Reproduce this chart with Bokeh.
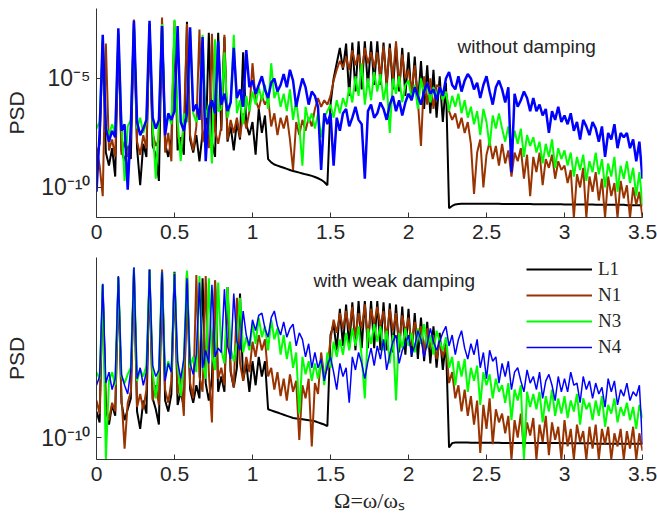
import numpy as np
from bokeh.plotting import figure
from bokeh.layouts import column
from bokeh.models import FixedTicker, Range1d, Label, Legend, LegendItem
from bokeh.embed import file_html
from bokeh.resources import INLINE

# frequency grid Omega = omega/omega_s (0 .. 3.5, step 0.02)
freq = np.linspace(0.0, 3.5, 176)

xtick_values = [0, 0.5, 1, 1.5, 2, 2.5, 3, 3.5]
xtick_labels = ["0", "0.5", "1", "1.5", "2", "2.5", "3", "3.5"]
top_ytick_values = [1e-10, 1e-5]
top_ytick_labels = ["10\u207b\u00b9\u2070", "10\u207b\u2075"]
bot_ytick_values = [1e-10]
bot_ytick_labels = ["10\u207b\u00b9\u2070"]

series_names = ["L1", "N1", "N3", "N4"]

# ---- top panel: without damping, log10(PSD) ----
top_L1 = [
    -8.6, -8.0, -3.3, -8.4, -9.0, -8.2, -9.5, -3.0, -8.3, -8.8,
    -8.1, -8.7, -2.5, -8.2, -9.9, -8.0, -8.6, -2.5, -8.1, -8.5,
    -9.7, -2.4, -8.0, -8.6, -7.8, -2.7, -8.3, -7.7, -8.5, -2.4,
    -7.8, -8.4, -7.6, -8.8, -7.5, -8.1, -2.9, -7.9, -8.6, -2.9,
    -7.4, -3.1, -7.9, -7.2, -8.3, -7.0, -7.8, -3.8, -7.1, -7.6,
    -7.0, -8.5, -6.4, -7.5, -6.7, -8.7, -8.85, -8.95, -9.0, -9.05,
    -9.1, -9.15, -9.2, -9.25, -9.28, -9.32, -9.36, -9.4, -9.43, -9.47,
    -9.52, -9.58, -9.65, -9.75, -9.9, -6.2, -5.0, -4.3, -3.6, -4.6,
    -3.4, -5.8, -3.35, -5.6, -3.3, -5.5, -3.3, -5.4, -3.3, -5.3,
    -3.3, -5.3, -3.35, -5.4, -3.4, -5.5, -3.5, -5.6, -3.6, -5.8,
    -3.8, -6.0, -4.0, -6.2, -4.2, -6.4, -4.4, -6.6, -4.6, -6.8,
    -4.9, -7.0, -5.2, -10.95, -10.85, -10.78, -10.76, -10.75, -10.75, -10.75,
    -10.75, -10.75, -10.75, -10.75, -10.75, -10.75, -10.75, -10.75, -10.75, -10.75,
    -10.76, -10.76, -10.76, -10.76, -10.76, -10.76, -10.76, -10.76, -10.76, -10.76,
    -10.77, -10.77, -10.77, -10.77, -10.77, -10.77, -10.77, -10.77, -10.77, -10.77,
    -10.78, -10.78, -10.78, -10.78, -10.78, -10.78, -10.78, -10.78, -10.78, -10.78,
    -10.8, -10.8, -10.8, -10.8, -10.8, -10.8, -10.8, -10.8, -10.8, -10.8,
    -10.82, -10.82, -10.82, -10.82, -10.82, -10.82,
]
top_N1 = [
    -8.2, -9.0, -10.4, -3.4, -8.3, -7.8, -8.6, -3.2, -8.5, -7.9,
    -8.6, -7.7, -2.3, -7.9, -8.5, -7.6, -8.2, -2.5, -7.5, -8.1,
    -7.8, -2.2, -8.4, -7.5, -8.8, -2.35, -7.6, -8.2, -7.3, -2.5,
    -7.6, -8.3, -7.2, -2.75, -7.9, -7.1, -8.2, -2.95, -7.4, -8.0,
    -7.2, -3.0, -7.8, -6.9, -7.5, -6.8, -7.7, -6.6, -7.3, -6.5,
    -4.3, -6.0, -6.4, -5.8, -6.2, -5.9, -7.2, -6.6, -7.6, -6.8,
    -7.3, -6.7, -7.8, -9.2, -7.0, -7.6, -6.9, -7.4, -6.8, -7.2,
    -6.4, -5.9, -6.3, -6.0, -6.2, -5.8, -5.1, -4.6, -4.2, -4.5,
    -4.0, -4.6, -3.7, -4.4, -3.9, -4.8, -3.6, -4.3, -3.8, -4.5,
    -3.8, -4.9, -3.5, -5.2, -3.6, -5.0, -3.3, -5.4, -3.9, -5.0,
    -4.6, -5.6, -4.4, -6.0, -8.1, -4.9, -6.2, -5.0, -6.4, -5.3,
    -5.4, -6.0, -5.6, -6.5, -6.9, -6.6, -7.3, -6.8, -7.5, -7.0,
    -8.0, -10.3, -8.4, -7.8, -10.0, -8.5, -7.9, -8.7, -8.1, -9.0,
    -8.0, -8.9, -8.3, -9.5, -8.4, -8.8, -8.2, -9.6, -8.5, -10.4,
    -8.6, -9.3, -8.4, -9.9, -8.7, -9.1, -8.5, -9.6, -8.8, -9.2,
    -9.0, -9.8, -9.2, -11.4, -9.4, -10.0, -9.1, -11.4, -9.5, -10.2,
    -9.3, -10.6, -9.6, -11.4, -9.5, -10.4, -9.8, -11.4, -9.7, -10.5,
    -9.9, -11.4, -10.0, -10.8, -10.2, -11.4,
]
top_N3 = [
    -7.3, -7.0, -3.2, -7.2, -7.6, -7.1, -7.5, -2.9, -7.0, -9.7,
    -7.2, -6.9, -2.5, -7.3, -6.8, -7.5, -7.0, -2.5, -7.1, -9.6,
    -7.0, -2.5, -7.3, -6.7, -7.1, -2.3, -6.9, -8.8, -6.6, -7.0,
    -2.8, -6.6, -7.0, -6.4, -3.0, -6.8, -6.2, -8.9, -3.2, -6.5,
    -6.4, -3.8, -6.8, -6.1, -3.0, -6.6, -6.0, -7.1, -5.8, -6.5,
    -5.6, -6.2, -5.4, -6.0, -5.3, -6.4, -4.3, -5.9, -5.5, -6.3,
    -5.7, -6.5, -5.5, -6.9, -6.0, -7.2, -9.0, -6.3, -7.0, -6.6,
    -7.3, -6.6, -7.7, -6.8, -6.5, -6.2, -6.8, -6.0, -6.6, -5.9,
    -6.3, -5.4, -6.1, -4.9, -5.8, -4.3, -6.2, -5.0, -6.0, -4.7,
    -5.6, -4.8, -6.0, -5.2, -7.5, -5.0, -5.7, -4.9, -6.1, -5.3,
    -5.1, -5.9, -5.3, -6.4, -5.0, -5.7, -5.2, -6.1, -5.4, -5.8,
    -5.4, -6.0, -5.6, -6.5, -5.8, -6.3, -5.7, -6.6, -6.0, -6.8,
    -6.3, -7.1, -6.5, -7.6, -6.4, -7.0, -8.1, -6.7, -7.3, -6.6,
    -7.3, -7.9, -7.2, -8.3, -7.4, -8.0, -7.3, -8.6, -7.6, -8.1,
    -7.7, -8.4, -7.9, -8.9, -8.0, -8.6, -7.8, -9.1, -8.2, -8.7,
    -8.3, -9.0, -8.4, -9.5, -8.6, -9.2, -8.5, -9.7, -8.8, -9.3,
    -8.4, -9.4, -8.7, -10.0, -8.9, -9.5, -8.6, -10.2, -9.0, -9.6,
    -8.8, -9.8, -9.1, -10.4, -9.3, -10.8,
]
top_N4 = [
    -10.2, -7.5, -3.0, -7.3, -7.9, -7.4, -7.7, -2.7, -7.4, -7.1,
    -10.1, -7.2, -2.35, -7.0, -7.6, -7.3, -6.9, -2.35, -6.8, -7.3,
    -6.9, -2.6, -7.6, -6.6, -6.9, -6.5, -2.6, -7.0, -7.4, -6.6,
    -2.65, -6.5, -6.2, -6.9, -3.1, -8.8, -6.4, -6.0, -6.6, -3.3,
    -6.2, -5.7, -6.5, -6.1, -3.6, -5.9, -5.5, -6.3, -3.7, -5.4,
    -5.1, -5.7, -5.3, -4.9, -5.5, -5.9, -5.2, -5.0, -5.6, -5.3,
    -4.8, -5.4, -4.6, -5.1, -6.3, -5.6, -5.0, -5.4, -6.2, -5.6,
    -5.8, -6.3, -9.2, -6.6, -7.1, -6.6, -9.0, -6.8, -7.4, -6.6,
    -6.4, -7.2, -6.8, -6.3, -6.9, -7.1, -9.6, -6.5, -6.2, -6.8,
    -6.6, -6.1, -6.4, -6.9, -6.2, -5.8, -6.5, -6.0, -6.7, -6.1,
    -5.7, -6.0, -5.4, -5.8, -6.2, -5.6, -5.2, -5.7, -5.5, -6.0,
    -5.4, -5.8, -5.0, -4.7, -5.3, -5.5, -4.9, -5.6, -5.1, -4.8,
    -5.0, -5.5, -5.2, -5.9, -5.3, -4.9, -5.6, -6.2, -5.4, -5.1,
    -5.5, -6.1, -5.4, -9.3, -5.7, -6.3, -6.0, -5.6, -5.9, -6.5,
    -5.9, -6.5, -6.2, -6.7, -6.4, -7.5, -6.5, -6.9, -6.3, -7.0,
    -6.7, -7.1, -6.6, -7.4, -7.0, -7.8, -6.9, -7.2, -7.6, -7.0,
    -7.3, -7.9, -7.2, -8.6, -7.5, -7.8, -7.1, -8.2, -7.5, -7.7,
    -7.5, -8.2, -7.8, -8.8, -7.9, -9.6,
]

# ---- bottom panel: with weak damping, log10(PSD) ----
bot_L1 = [
    -8.8, -9.3, -3.0, -8.6, -9.4, -8.5, -9.0, -2.65, -8.4, -9.2,
    -8.7, -8.2, -2.25, -8.8, -9.6, -8.3, -8.9, -2.3, -8.2, -8.7,
    -9.4, -2.35, -8.3, -8.8, -8.0, -2.4, -8.5, -7.9, -8.6, -2.5,
    -7.8, -8.4, -7.6, -8.2, -2.7, -7.5, -8.3, -7.3, -2.8, -7.9,
    -7.2, -7.9, -3.1, -7.0, -7.7, -6.8, -3.4, -7.4, -6.6, -7.9,
    -6.5, -7.6, -6.3, -7.2, -6.5, -8.7, -8.75, -8.8, -8.85, -8.9,
    -8.95, -9.0, -9.05, -9.1, -9.12, -9.14, -9.16, -9.18, -9.2, -9.22,
    -9.25, -9.3, -9.35, -9.4, -9.47, -5.3, -4.8, -6.0, -4.1, -5.8,
    -3.9, -5.9, -3.8, -6.0, -3.75, -5.9, -3.75, -5.9, -3.75, -5.9,
    -3.75, -6.0, -3.8, -6.0, -3.85, -6.1, -3.9, -6.1, -4.0, -6.2,
    -4.1, -6.3, -4.3, -6.4, -4.5, -6.5, -4.7, -6.6, -4.9, -6.8,
    -5.2, -6.9, -5.6, -10.45, -10.25, -10.22, -10.22, -10.22, -10.22, -10.22,
    -10.23, -10.23, -10.23, -10.23, -10.23, -10.23, -10.23, -10.23, -10.23, -10.23,
    -10.24, -10.24, -10.24, -10.24, -10.24, -10.24, -10.24, -10.24, -10.24, -10.24,
    -10.25, -10.25, -10.25, -10.25, -10.25, -10.25, -10.25, -10.25, -10.25, -10.25,
    -10.26, -10.26, -10.26, -10.26, -10.26, -10.26, -10.26, -10.26, -10.26, -10.26,
    -10.28, -10.28, -10.28, -10.28, -10.28, -10.28, -10.28, -10.28, -10.28, -10.28,
    -10.28, -10.28, -10.28, -10.28, -10.28, -10.28,
]
bot_N1 = [
    -8.3, -8.9, -3.3, -8.6, -9.2, -8.4, -8.8, -3.0, -8.1, -10.5,
    -8.4, -7.9, -2.5, -8.6, -8.0, -8.7, -7.8, -2.6, -8.3, -7.6,
    -8.5, -2.3, -7.8, -8.4, -7.4, -2.5, -8.0, -7.3, -9.0, -2.4,
    -7.5, -8.2, -2.55, -7.2, -7.9, -2.6, -7.0, -9.3, -2.8, -7.3,
    -6.8, -7.6, -3.2, -6.9, -7.7, -3.6, -6.6, -7.4, -6.3, -7.0,
    -5.6, -6.3, -5.3, -6.0, -5.5, -7.2, -6.8, -7.8, -7.0, -8.1,
    -7.3, -8.3, -7.1, -7.9, -7.4, -10.1, -7.6, -8.2, -7.3, -10.4,
    -7.5, -8.0, -6.1, -7.2, -6.8, -5.5, -4.6, -5.2, -4.3, -5.0,
    -4.2, -5.1, -4.0, -5.4, -4.3, -5.0, -3.9, -5.6, -4.1, -4.8,
    -4.0, -4.9, -4.2, -5.5, -4.1, -5.1, -4.3, -5.7, -4.4, -5.2,
    -4.5, -5.8, -4.7, -5.4, -4.9, -6.2, -5.0, -5.9, -5.3, -6.4,
    -5.6, -6.3, -5.8, -7.5, -7.0, -8.2, -7.6, -8.8, -7.8, -9.0,
    -8.1, -9.4, -8.3, -10.7, -8.5, -9.6, -8.2, -10.3, -8.7, -9.3,
    -8.9, -9.8, -9.0, -11.0, -9.2, -10.0, -8.9, -10.6, -9.3, -9.9,
    -9.1, -11.0, -9.4, -10.2, -9.0, -10.8, -9.3, -10.1, -9.5, -11.0,
    -9.2, -10.4, -9.6, -11.0, -9.4, -10.2, -9.7, -11.0, -9.5, -10.5,
    -9.4, -11.0, -9.6, -10.3, -9.5, -11.0, -9.8, -10.4, -9.6, -11.0,
    -9.7, -10.5, -9.5, -11.0, -9.8, -10.6,
]
bot_N3 = [
    -7.0, -7.3, -3.0, -11.0, -7.4, -7.0, -7.6, -2.7, -7.2, -7.5,
    -7.1, -6.8, -2.25, -7.4, -6.9, -7.2, -6.7, -2.35, -7.0, -8.2,
    -6.8, -2.4, -7.2, -6.5, -7.0, -2.45, -6.7, -8.1, -6.4, -2.35,
    -6.8, -6.3, -7.0, -2.6, -6.5, -7.3, -2.7, -6.2, -6.9, -2.9,
    -6.0, -6.6, -3.1, -5.9, -6.5, -5.6, -3.6, -6.1, -5.4, -6.0,
    -4.8, -5.7, -4.5, -5.4, -4.9, -6.0, -4.6, -5.5, -5.0, -6.2,
    -5.3, -6.4, -5.6, -6.8, -6.1, -8.9, -6.3, -7.1, -6.5, -7.4,
    -6.6, -7.3, -6.4, -7.6, -6.1, -6.8, -5.6, -6.3, -5.5, -6.2,
    -5.2, -6.0, -5.0, -5.8, -4.9, -6.3, -8.2, -5.0, -5.7, -4.8,
    -5.6, -4.9, -6.0, -5.1, -6.6, -5.3, -8.3, -5.2, -5.9, -5.0,
    -5.8, -5.2, -6.1, -5.0, -5.7, -4.8, -5.9, -5.3, -6.2, -5.1,
    -5.6, -6.0, -5.4, -6.8, -6.3, -7.6, -6.5, -7.2, -6.4, -7.9,
    -6.8, -7.4, -6.7, -8.5, -7.0, -7.6, -7.1, -8.2, -7.3, -7.9,
    -7.6, -8.4, -7.5, -9.2, -7.8, -8.3, -7.6, -11.0, -7.9, -8.6,
    -8.0, -8.7, -7.9, -9.3, -8.1, -8.8, -7.8, -9.0, -8.2, -8.9,
    -8.1, -9.1, -8.3, -8.8, -8.0, -9.4, -8.2, -8.7, -8.4, -9.2,
    -8.3, -9.0, -8.1, -9.5, -8.5, -8.9, -8.2, -9.3, -8.6, -9.0,
    -8.4, -9.2, -8.6, -9.6, -8.5, -9.1,
]
bot_N4 = [
    -7.6, -7.2, -2.95, -7.5, -7.0, -7.8, -7.3, -2.6, -7.1, -7.6,
    -8.0, -6.9, -2.2, -7.3, -6.8, -7.6, -7.0, -2.3, -6.7, -7.2,
    -6.9, -2.4, -7.4, -6.6, -7.0, -2.5, -6.5, -7.3, -6.4, -2.7,
    -6.6, -7.1, -6.2, -2.9, -6.8, -6.0, -6.6, -3.0, -6.3, -5.9,
    -6.1, -3.2, -5.8, -6.4, -3.4, -5.6, -6.0, -4.2, -5.3, -5.8,
    -4.6, -5.1, -4.4, -4.3, -5.0, -5.4, -4.5, -4.2, -4.9, -5.3,
    -4.7, -5.4, -5.0, -4.8, -5.8, -5.2, -5.5, -6.3, -5.7, -6.8,
    -6.1, -6.8, -6.4, -7.4, -6.7, -6.3, -7.0, -7.8, -6.6, -7.2,
    -6.8, -8.4, -6.3, -6.9, -6.1, -6.6, -7.3, -6.5, -5.9, -6.7,
    -5.8, -6.4, -5.5, -6.9, -6.2, -5.6, -5.3, -6.6, -6.0, -5.7,
    -5.3, -6.2, -5.8, -5.1, -5.5, -6.3, -5.7, -5.0, -5.6, -6.0,
    -5.6, -5.2, -4.9, -5.8, -5.3, -6.2, -5.5, -5.1, -5.9, -6.4,
    -5.7, -6.2, -5.5, -6.8, -6.1, -7.3, -6.0, -6.5, -6.3, -7.5,
    -6.6, -7.2, -6.5, -7.8, -7.0, -6.8, -7.4, -7.9, -6.9, -7.5,
    -7.2, -7.8, -7.0, -8.2, -7.4, -7.1, -7.6, -8.3, -7.2, -7.9,
    -7.3, -7.9, -7.0, -7.6, -7.5, -8.4, -7.2, -7.8, -7.4, -8.2,
    -7.5, -8.0, -7.7, -8.6, -7.3, -7.9, -7.4, -8.5, -7.8, -8.1,
    -7.5, -8.3, -7.9, -8.1, -7.6, -10.3,
]

colors = {"L1": "#000000", "N1": "#993300", "N3": "#00ff00", "N4": "#0000ff"}
AX = "#333333"
TXT = "#262626"


def make_panel(height, log_lo, log_hi, b_top, b_bottom, yt_vals, yt_labels):
    p = figure(width=657, height=height,
               x_range=Range1d(0, 3.5),
               y_range=Range1d(10 ** log_lo, 10 ** log_hi),
               y_axis_type="log",
               output_backend="svg", toolbar_location=None,
               min_border_left=96, min_border_right=15,
               min_border_top=b_top, min_border_bottom=b_bottom)
    p.outline_line_color = None
    p.xgrid.visible = False
    p.ygrid.visible = False
    p.background_fill_color = "white"
    p.border_fill_color = "white"
    p.xaxis.ticker = FixedTicker(ticks=xtick_values)
    p.xaxis.major_label_overrides = dict(zip(xtick_values, xtick_labels))
    p.yaxis.ticker = FixedTicker(ticks=yt_vals)
    p.yaxis.major_label_overrides = dict(zip(yt_vals, yt_labels))
    for ax in (p.xaxis[0], p.yaxis[0]):
        ax.axis_line_color = AX
        ax.axis_line_width = 1
        ax.major_tick_line_color = AX
        ax.major_tick_in = 5
        ax.major_tick_out = 0
        ax.minor_tick_line_color = None
        ax.major_label_text_font = "Liberation Sans"
        ax.major_label_text_font_size = "21px"
        ax.major_label_text_color = TXT
        ax.major_label_standoff = 7
    p.yaxis.major_label_text_font_size = "23px"
    p.yaxis.major_label_standoff = 6
    p.yaxis.axis_label = "PSD"
    p.yaxis.axis_label_text_font = "Liberation Sans"
    p.yaxis.axis_label_text_font_size = "21px"
    p.yaxis.axis_label_text_font_style = "normal"
    p.yaxis.axis_label_text_color = TXT
    p.yaxis.axis_label_standoff = 10
    return p


p1 = make_panel(250, -11.38, -1.79, 8, 33, top_ytick_values, top_ytick_labels)
top_data = {"L1": top_L1, "N1": top_N1, "N3": top_N3, "N4": top_N4}
top_widths = {"L1": 2, "N1": 2, "N3": 2, "N4": 2.5}
for name in series_names:
    p1.line(freq, 10 ** np.array(top_data[name]), line_color=colors[name],
            line_width=top_widths[name])
p1.add_layout(Label(x=2.314, y=10 ** -3.53, text="without damping",
                    text_baseline="middle", text_font="Liberation Sans",
                    text_font_size="19px", text_color=TXT))

p2 = make_panel(272, -11.0, -1.75, 7, 63, bot_ytick_values, bot_ytick_labels)
bot_data = {"L1": bot_L1, "N1": bot_N1, "N3": bot_N3, "N4": bot_N4}
bot_widths = {"L1": 2, "N1": 2, "N3": 2, "N4": 1.5}
renderers = {}
for name in series_names:
    renderers[name] = p2.line(freq, 10 ** np.array(bot_data[name]),
                              line_color=colors[name], line_width=bot_widths[name])
p2.add_layout(Label(x=1.391, y=10 ** -2.8, text="with weak damping",
                    text_baseline="middle", text_font="Liberation Sans",
                    text_font_size="19px", text_color=TXT))
p2.xaxis.axis_label = "\u03a9=\u03c9/\u03c9\u209b"
p2.xaxis.axis_label_text_font = "Liberation Serif"
p2.xaxis.axis_label_text_font_size = "22px"
p2.xaxis.axis_label_text_font_style = "normal"
p2.xaxis.axis_label_text_color = TXT
p2.xaxis.axis_label_standoff = 4

legend = Legend(items=[LegendItem(label=n, renderers=[renderers[n]]) for n in series_names],
                location=(430, 101), orientation="vertical",
                glyph_width=66, glyph_height=20, label_height=20,
                label_standoff=6, spacing=4, padding=0, margin=0,
                border_line_color=None, background_fill_alpha=0,
                label_text_font="Liberation Serif", label_text_font_size="19px",
                label_text_color=TXT)
p2.add_layout(legend)

layout = column(p1, p2, spacing=0)
open("out.html", "w").write(file_html(layout, INLINE))
